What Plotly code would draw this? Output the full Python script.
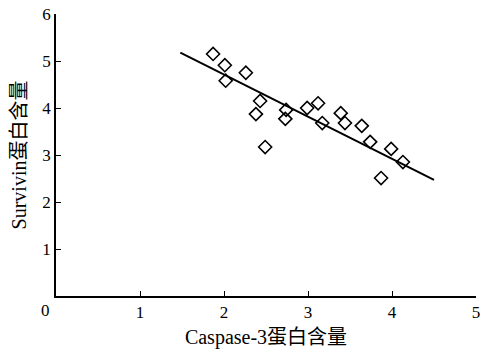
import plotly.graph_objects as go

caspase3 = [1.87, 2.01, 2.02, 2.26, 2.43, 2.38, 2.49, 2.74, 2.73, 2.99, 3.12, 3.17,
            3.39, 3.44, 3.64, 3.74, 3.87, 3.99, 4.13]
survivin = [5.15, 4.91, 4.58, 4.75, 4.15, 3.87, 3.17, 3.96, 3.77, 4.0, 4.1, 3.68,
            3.89, 3.68, 3.62, 3.28, 2.51, 3.13, 2.85]
fit_x = [1.48, 4.5]
fit_y = [5.18, 2.47]
x_ticks = [1, 2, 3, 4, 5]
y_ticks = [1, 2, 3, 4, 5, 6]

font = "Liberation Serif, Times New Roman, Noto Sans CJK SC, serif"

fig = go.Figure()
fig.add_trace(go.Scatter(x=fit_x, y=fit_y, mode="lines",
                         line=dict(color="black", width=2), showlegend=False))
fig.add_trace(go.Scatter(x=caspase3, y=survivin, mode="markers",
                         marker=dict(symbol="diamond-open", size=10, color="black",
                                     line=dict(width=1.6, color="black")),
                         showlegend=False))

fig.update_layout(
    width=492, height=352,
    margin=dict(l=56, r=16, t=14, b=56),
    paper_bgcolor="white", plot_bgcolor="white",
    font=dict(family=font, size=17, color="black"),
    xaxis=dict(range=[0, 5], tickvals=x_ticks, ticks="inside", ticklen=5,
               tickwidth=1.2, tickcolor="black", showline=True, linecolor="black",
               linewidth=1.5, showgrid=False, zeroline=False, automargin=False,
               title=dict(text="Caspase-3蛋白含量", font=dict(size=20), standoff=9)),
    yaxis=dict(range=[0, 6], tickvals=y_ticks, ticks="inside", ticklen=5,
               tickwidth=1.2, tickcolor="black", showline=True, linecolor="black",
               linewidth=1.5, showgrid=False, zeroline=False, automargin=False,
               title=dict(text="Survivin蛋白含量", font=dict(size=20), standoff=10)),
    annotations=[dict(x=0, y=0, xref="x", yref="y", text="0", showarrow=False,
                      xshift=-11, yshift=-14, font=dict(size=17))],
)

fig.write_html("out.html", config={"displayModeBar": False},
               post_script="document.body.style.margin='0';")
